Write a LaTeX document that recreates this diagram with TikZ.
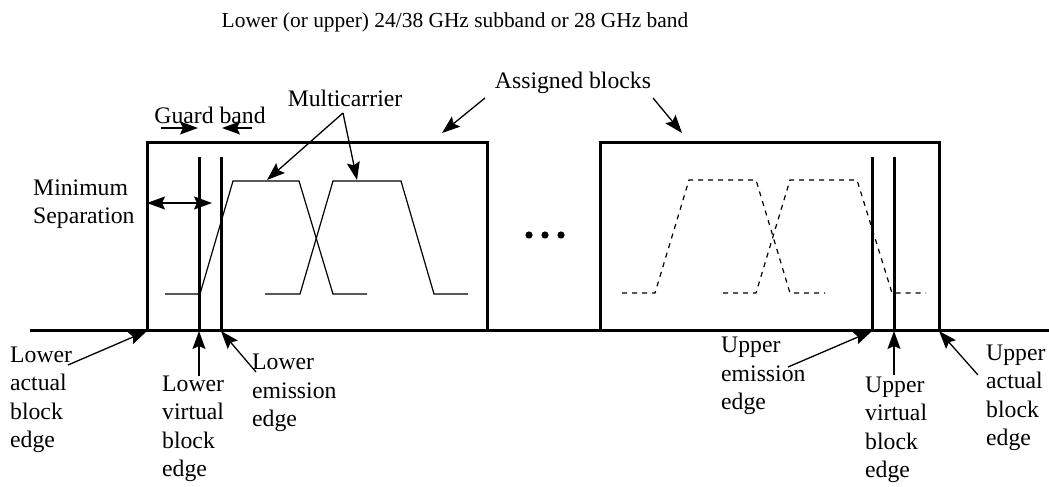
\documentclass[tikz,border=0pt]{standalone}
\usepackage{fontspec}
\setmainfont{Liberation Serif}
\usetikzlibrary{arrows.meta}
\begin{document}
\begin{tikzpicture}[x=1pt,y=-1pt,
  edge/.style={line width=3pt},
  spectrum/.style={line width=1.2pt, line join=miter},
  dspectrum/.style={spectrum, dash pattern=on 5pt off 5pt},
  tip/.tip={Stealth[length=18pt,width=13pt,inset=3pt]},
  pointer/.style={line width=1.3pt, -tip},
  twoway/.style={line width=1.3pt, tip-tip},
  lbl/.style={inner sep=0pt, align=left, font=\fontsize{23.7}{28.5}\selectfont},
  ttl/.style={inner sep=0pt, font=\fontsize{21.4}{26}\selectfont}]
\useasboundingbox (0,0) rectangle (1049,487);

% frequency axis and the two assigned blocks
\draw[edge] (30,330) -- (1049,330);
\draw[edge, line join=miter] (147,330) -- (147,142) -- (487,142) -- (487,330);
\draw[edge, line join=miter] (600,330) -- (600,142) -- (939,142) -- (939,330);

% virtual and emission edges
\draw[edge] (199,157) -- (199,330);
\draw[edge] (221,157) -- (221,330);
\draw[edge] (872,157) -- (872,330);
\draw[edge] (894,157) -- (894,330);

% carrier spectra
\draw[spectrum] (165,294) -- (200,294) -- (233,181) -- (299,181) -- (333,294) -- (367,294);
\draw[spectrum] (265,294) -- (300,294) -- (333,181) -- (401,181) -- (434,294) -- (468,294);
\draw[dspectrum] (622,293) -- (655,293) -- (689,180) -- (756,180) -- (790,293) -- (825,293);
\draw[dspectrum] (723,293) -- (756,293) -- (790,180) -- (857,180) -- (892,293) -- (926,293);

% ellipsis between the blocks
\foreach \x in {529,545,561} \fill (\x,235) circle (3.6pt);

% texts
\node[ttl] (title) at (455,22) {Lower (or upper) 24/38 GHz subband or 28 GHz band};
\node[lbl] (guard) at (210,115) {Guard band};
\node[lbl] (multi) at (345,98) {Multicarrier};
\node[lbl] (assigned) at (573,83) {Assigned blocks};
\node[lbl, anchor=west] (minsep) at (33,204) {Minimum\\Separation};
\node[lbl, anchor=west] (lact) at (10,400) {Lower\\actual\\block\\edge};
\node[lbl, anchor=west] (lvirt) at (162,429) {Lower\\virtual\\block\\edge};
\node[lbl, anchor=west] (lemis) at (252,393) {Lower\\emission\\edge};
\node[lbl, anchor=west] (uemis) at (721,376) {Upper\\emission\\edge};
\node[lbl, anchor=west] (uvirt) at (865,430) {Upper\\virtual\\block\\edge};
\node[lbl, anchor=west] (uact) at (986,398) {Upper\\actual\\block\\edge};

% points that the arrows reach
\coordinate (gbL0) at (161,128);  \coordinate (gbL1) at (198,128);
\coordinate (gbR0) at (252,128);  \coordinate (gbR1) at (222,128);
\coordinate (msA) at (147,203);   \coordinate (msB) at (212,203);
\coordinate (mcFork) at (343,113);
\coordinate (mcA) at (267,180);   \coordinate (mcB) at (357,180);
\coordinate (abA0) at (485,98);   \coordinate (abA1) at (442,133);
\coordinate (abB0) at (653,98);   \coordinate (abB1) at (682,133);
\coordinate (lactT) at (68,365);  \coordinate (lactH) at (147,331);
\coordinate (lvirtT) at (199,376); \coordinate (lvirtH) at (199,331);
\coordinate (lemisT) at (256,372); \coordinate (lemisH) at (221,331);
\coordinate (uemisT) at (788,367); \coordinate (uemisH) at (872,331);
\coordinate (uvirtT) at (894,375); \coordinate (uvirtH) at (894,331);
\coordinate (uactT) at (978,375);  \coordinate (uactH) at (939,331);

% arrows
\draw[pointer] (gbL0) -- (gbL1);
\draw[pointer] (gbR0) -- (gbR1);
\draw[twoway] (msA) -- (msB);
\draw[pointer] (mcFork) -- (mcA);
\draw[pointer] (mcFork) -- (mcB);
\draw[pointer] (abA0) -- (abA1);
\draw[pointer] (abB0) -- (abB1);
\draw[pointer] (lactT) -- (lactH);
\draw[pointer] (lvirtT) -- (lvirtH);
\draw[pointer] (lemisT) -- (lemisH);
\draw[pointer] (uemisT) -- (uemisH);
\draw[pointer] (uvirtT) -- (uvirtH);
\draw[pointer] (uactT) -- (uactH);
\end{tikzpicture}
\end{document}
